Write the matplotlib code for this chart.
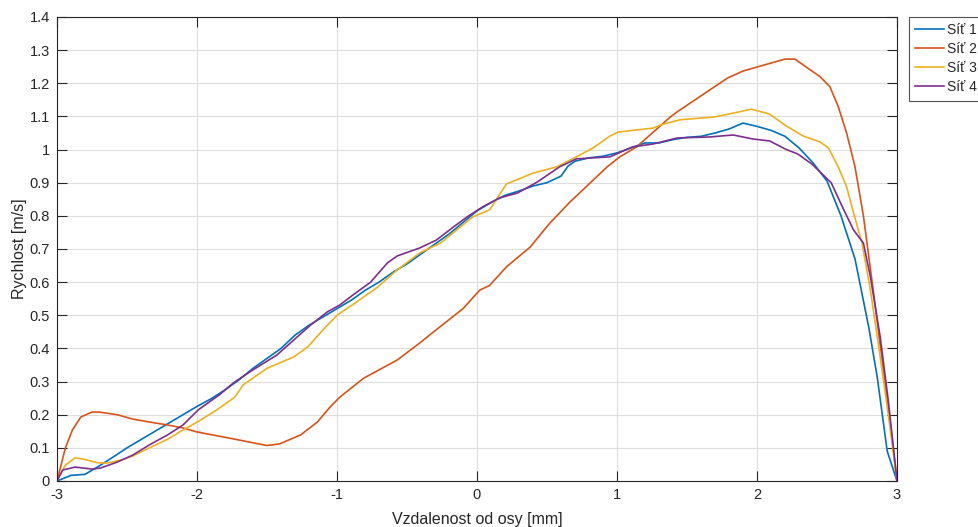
import matplotlib
matplotlib.use("Agg")
import matplotlib.pyplot as plt
from matplotlib.ticker import FuncFormatter

plt.rcParams['font.family'] = ['Liberation Sans', 'DejaVu Sans']
plt.rcParams['axes.unicode_minus'] = False

# Síť 1
x1 = [-3, -2.9, -2.8, -2.7, -2.6, -2.5, -2.4, -2.3, -2.2, -2.1, -2.0, -1.9, -1.8, -1.7, -1.6,
      -1.5, -1.4, -1.3, -1.2, -1.1, -1.0, -0.9, -0.8, -0.7, -0.6, -0.5, -0.4, -0.3, -0.2, -0.1,
      0, 0.1, 0.2, 0.3, 0.4, 0.5, 0.6, 0.65, 0.7, 0.8, 0.9, 1.0, 1.1, 1.2, 1.3, 1.4, 1.5, 1.6,
      1.7, 1.8, 1.9, 2.0, 2.1, 2.2, 2.3, 2.4, 2.5, 2.6, 2.7, 2.8, 2.86, 2.93, 3.0]
y1 = [0, 0.017, 0.02, 0.045, 0.072, 0.10, 0.125, 0.15, 0.175, 0.20, 0.225, 0.248, 0.275, 0.305, 0.34,
      0.37, 0.40, 0.44, 0.47, 0.495, 0.52, 0.545, 0.575, 0.60, 0.63, 0.655, 0.685, 0.715, 0.745, 0.78,
      0.815, 0.84, 0.862, 0.875, 0.89, 0.90, 0.92, 0.95, 0.965, 0.975, 0.98, 0.99, 1.005, 1.02, 1.02,
      1.03, 1.037, 1.04, 1.05, 1.062, 1.08, 1.07, 1.058, 1.04, 1.005, 0.96, 0.905, 0.80, 0.67, 0.46,
      0.31, 0.09, 0]

# Síť 2
x2 = [-3, -2.94, -2.89, -2.83, -2.75, -2.7, -2.57, -2.46, -2.34, -2.21, -2.1, -2.0, -1.74, -1.5,
      -1.41, -1.26, -1.14, -1.05, -0.98, -0.81, -0.57, -0.41, -0.31, -0.1, 0.02, 0.09, 0.21, 0.38,
      0.52, 0.66, 0.93, 1.02, 1.14, 1.38, 1.43, 1.79, 1.9, 2.2, 2.27, 2.45, 2.52, 2.58, 2.64, 2.7,
      2.76, 2.83, 2.9, 2.96, 3.0]
y2 = [0, 0.10, 0.154, 0.193, 0.208, 0.208, 0.20, 0.187, 0.178, 0.169, 0.16, 0.148, 0.127, 0.107,
      0.112, 0.139, 0.178, 0.223, 0.253, 0.31, 0.365, 0.416, 0.45, 0.52, 0.576, 0.59, 0.646, 0.706,
      0.778, 0.84, 0.948, 0.978, 1.008, 1.098, 1.114, 1.216, 1.237, 1.273, 1.273, 1.22, 1.19, 1.13,
      1.05, 0.948, 0.80, 0.576, 0.344, 0.145, 0]

# Síť 3
x3 = [-3, -2.94, -2.87, -2.81, -2.71, -2.64, -2.53, -2.46, -2.34, -2.21, -2.1, -1.99, -1.86, -1.73,
      -1.67, -1.5, -1.31, -1.21, -1.1, -1.0, -0.86, -0.71, -0.57, -0.41, -0.26, -0.12, -0.03, 0.09,
      0.21, 0.4, 0.57, 0.71, 0.83, 0.95, 1.01, 1.26, 1.31, 1.45, 1.69, 1.83, 1.96, 2.09, 2.21, 2.33,
      2.45, 2.51, 2.58, 2.64, 2.69, 2.75, 2.81, 2.88, 2.94, 3.0]
y3 = [0, 0.048, 0.07, 0.066, 0.055, 0.054, 0.065, 0.075, 0.10, 0.126, 0.154, 0.18, 0.214, 0.253,
      0.29, 0.34, 0.374, 0.404, 0.456, 0.50, 0.54, 0.585, 0.637, 0.688, 0.718, 0.766, 0.797, 0.818,
      0.896, 0.929, 0.948, 0.978, 1.005, 1.041, 1.053, 1.065, 1.074, 1.09, 1.098, 1.11, 1.122, 1.107,
      1.071, 1.041, 1.023, 1.005, 0.948, 0.888, 0.808, 0.718, 0.576, 0.374, 0.193, 0]

# Síť 4
x4 = [-3, -2.96, -2.87, -2.81, -2.75, -2.69, -2.57, -2.46, -2.34, -2.21, -2.1, -1.99, -1.84, -1.74,
      -1.62, -1.43, -1.31, -1.19, -1.07, -0.98, -0.89, -0.76, -0.64, -0.57, -0.41, -0.29, -0.17,
      -0.07, 0.04, 0.16, 0.29, 0.43, 0.59, 0.71, 0.95, 1.11, 1.26, 1.43, 1.66, 1.83, 1.97, 2.09,
      2.21, 2.29, 2.39, 2.53, 2.61, 2.69, 2.76, 2.81, 2.88, 2.94, 3.0]
y4 = [0, 0.033, 0.042, 0.039, 0.036, 0.039, 0.057, 0.078, 0.109, 0.139, 0.169, 0.215, 0.26, 0.296,
      0.33, 0.38, 0.425, 0.47, 0.51, 0.531, 0.56, 0.60, 0.658, 0.679, 0.703, 0.727, 0.766, 0.797,
      0.827, 0.854, 0.869, 0.902, 0.948, 0.972, 0.978, 1.008, 1.017, 1.035, 1.038, 1.044, 1.032,
      1.026, 1.0, 0.987, 0.957, 0.90, 0.827, 0.757, 0.718, 0.616, 0.435, 0.235, 0]

labels = ["Síť 1", "Síť 2", "Síť 3", "Síť 4"]
colors = ["#0072BD", "#D95319", "#EDB120", "#7E2F8E"]

fig = plt.figure(figsize=(9.79, 5.27), dpi=100)
ax = fig.add_axes([57 / 979, 46 / 527, 840 / 979, 464 / 527])

for xs, ys, lab, c in zip([x1, x2, x3, x4], [y1, y2, y3, y4], labels, colors):
    ax.plot(xs, ys, color=c, lw=1.2, label=lab)

ax.set_xlim(-3, 3)
ax.set_ylim(0, 1.4)
ax.set_xticks([-3, -2, -1, 0, 1, 2, 3])
ax.set_yticks([i / 10 for i in range(15)])
ax.yaxis.set_major_formatter(FuncFormatter(lambda v, p: "%g" % round(v, 2)))

ax.grid(True, color="#dedede", lw=0.8)
ax.set_axisbelow(True)
for s in ax.spines.values():
    s.set_color("#262626")
    s.set_linewidth(0.8)
ax.tick_params(direction="in", length=7, width=0.8, color="#262626",
               top=True, right=True, labelsize=10.5, labelcolor="#262626", pad=5)

ax.set_xlabel("Vzdalenost od osy [mm]", fontsize=11.5, color="#262626", labelpad=7)
ax.set_ylabel("Rychlost [m/s]", fontsize=11.5, color="#262626", labelpad=2)

leg = ax.legend(loc="upper left", bbox_to_anchor=(1.0143, 1.0), borderaxespad=0,
                fancybox=False, fontsize=10, handlelength=2.1, handletextpad=0.2,
                labelspacing=0.36, borderpad=0.45)
leg.get_frame().set_edgecolor("#262626")
leg.get_frame().set_linewidth(0.8)
for t in leg.get_texts():
    t.set_color("#262626")

fig.savefig("out.png", dpi=100)
